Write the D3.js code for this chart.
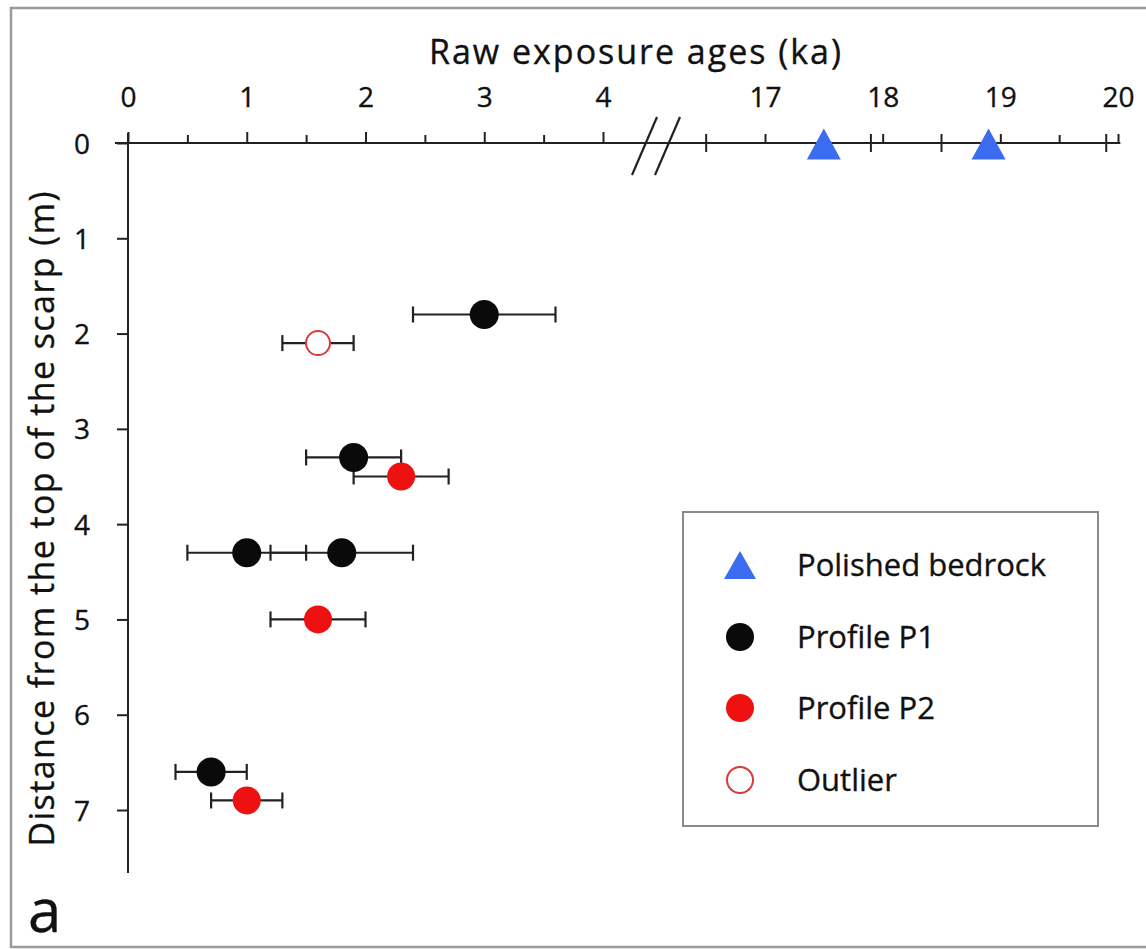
<!DOCTYPE html>
<html>
<head>
<meta charset="utf-8">
<script src="https://cdn.jsdelivr.net/npm/d3@7"></script>
<style>
  html, body { margin: 0; padding: 0; background: #fff; }
  svg text { font-family: "Open Sans", "Noto Sans", sans-serif; fill: #111; stroke: #111; stroke-width: 0.35px; }
</style>
</head>
<body>
<svg id="chart" width="1146" height="949"></svg>
<script>
// ---------------- data ----------------
const leftTicks = [0, 1, 2, 3, 4];
const leftMinorTicks = [0.5, 1.5, 2.5, 3.5];
const rightTicks = [17, 18, 19, 20];
const rightCrossTicks = [16.5, 17.9, 18.5, 19.9];
const rightMinorTicks = [19.5];
const depthTicks = [0, 1, 2, 3, 4, 5, 6, 7];

const bedrockAge = [17.5, 18.9];
const bedrockDepth = [0, 0];

const p1Age = [3.0, 1.9, 1.0, 1.8, 0.7];
const p1Depth = [1.8, 3.3, 4.3, 4.3, 6.6];
const p1Err = [0.6, 0.4, 0.5, 0.6, 0.3];

const p2Age = [2.3, 1.6, 1.0];
const p2Depth = [3.5, 5.0, 6.9];
const p2Err = [0.4, 0.4, 0.3];

const outlierAge = [1.6];
const outlierDepth = [2.1];
const outlierErr = [0.3];

const legendLabels = ["Polished bedrock", "Profile P1", "Profile P2", "Outlier"];
const xTitle = "Raw exposure ages (ka)";
const yTitle = "Distance from the top of the scarp (m)";
const panelLabel = "a";

// ---------------- layout ----------------
const svg = d3.select("#chart");
const BLUE = "#3b6cf0", RED = "#ee1111", BLACK = "#0a0a0a";

const xL = d3.scaleLinear().domain([0, 4]).range([128, 603]);
const xR = d3.scaleLinear().domain([17, 20]).range([765, 1118]);
const y = d3.scaleLinear().domain([0, 7]).range([143, 810]);
const axisY = y(0);

// frame
svg.append("rect").attr("x", 11).attr("y", 8).attr("width", 1150).attr("height", 939)
  .attr("fill", "none").attr("stroke", "#9a9a9a").attr("stroke-width", 2.5);

// axis line (continuous through break)
svg.append("line").attr("x1", xL(-0.11)).attr("x2", xR(20.02))
  .attr("y1", axisY).attr("y2", axisY).attr("stroke", "#222").attr("stroke-width", 2);

const tickFont = "28px";
function styleAxis(g) {
  g.select(".domain").remove();
  g.selectAll(".tick line").attr("stroke", "#222").attr("stroke-width", 2);
  g.selectAll(".tick text").attr("font-size", tickFont).attr("fill", "#111")
    .style("font-family", "'Open Sans', sans-serif");
}

// left segment
svg.append("g").attr("transform", `translate(0,${axisY})`)
  .call(d3.axisTop(xL).tickValues(leftTicks).tickSize(11).tickPadding(25).tickFormat(d3.format("d")))
  .call(styleAxis);
svg.append("g").attr("transform", `translate(0,${axisY})`)
  .call(d3.axisTop(xL).tickValues(leftMinorTicks).tickSize(8).tickFormat(""))
  .call(styleAxis);

// right segment
svg.append("g").attr("transform", `translate(0,${axisY})`)
  .call(d3.axisTop(xR).tickValues(rightTicks).tickSize(9).tickPadding(27).tickFormat(d3.format("d")))
  .call(styleAxis);
svg.append("g").attr("transform", `translate(0,${axisY})`)
  .call(d3.axisTop(xR).tickValues(rightMinorTicks).tickSize(8).tickFormat(""))
  .call(styleAxis);
svg.append("g").selectAll("line").data(rightCrossTicks).join("line")
  .attr("x1", d => xR(d)).attr("x2", d => xR(d))
  .attr("y1", axisY - 9).attr("y2", axisY + 9)
  .attr("stroke", "#222").attr("stroke-width", 2);

// break marks
const brk = svg.append("g").attr("stroke", "#222").attr("stroke-width", 2.2);
[[632, 657], [655, 680]].forEach(([a, b]) => {
  brk.append("line").attr("x1", a).attr("y1", axisY + 32).attr("x2", b).attr("y2", axisY - 26);
});

// y axis
svg.append("line").attr("x1", xL(0)).attr("x2", xL(0)).attr("y1", axisY - 10).attr("y2", 873)
  .attr("stroke", "#222").attr("stroke-width", 2);
svg.append("g").attr("transform", `translate(${xL(0)},0)`)
  .call(d3.axisLeft(y).tickValues(depthTicks).tickSize(11).tickPadding(27).tickFormat(d3.format("d")))
  .call(styleAxis)
  .selectAll(".tick text").attr("dy", "0.36em");

// titles
svg.append("text").attr("x", 635).attr("y", 64).attr("text-anchor", "middle")
  .attr("font-size", "34px").attr("textLength", 412).attr("lengthAdjust", "spacing").text(xTitle);
svg.append("text").attr("transform", "translate(54,519) rotate(-90)").attr("text-anchor", "middle")
  .attr("font-size", "34px").attr("textLength", 655).attr("lengthAdjust", "spacing").text(yTitle);
svg.append("text").attr("x", 28).attr("y", 932).attr("font-size", "60px").text(panelLabel);

// ---------------- marks ----------------
function errorBars(ages, depths, errs, xs) {
  const g = svg.append("g").attr("stroke", "#222").attr("stroke-width", 2.2);
  const rows = ages.map((a, i) => ({ a, d: depths[i], e: errs[i] }));
  g.selectAll("line.h").data(rows).join("line").attr("class", "h")
    .attr("x1", r => xs(r.a - r.e)).attr("x2", r => xs(r.a + r.e))
    .attr("y1", r => y(r.d)).attr("y2", r => y(r.d));
  g.selectAll("line.c1").data(rows).join("line").attr("class", "c1")
    .attr("x1", r => xs(r.a - r.e)).attr("x2", r => xs(r.a - r.e))
    .attr("y1", r => y(r.d) - 8).attr("y2", r => y(r.d) + 8);
  g.selectAll("line.c2").data(rows).join("line").attr("class", "c2")
    .attr("x1", r => xs(r.a + r.e)).attr("x2", r => xs(r.a + r.e))
    .attr("y1", r => y(r.d) - 8).attr("y2", r => y(r.d) + 8);
}
function dots(ages, depths, xs, fill, stroke, sw, r) {
  svg.append("g").selectAll("circle").data(ages.map((a, i) => ({ a, d: depths[i] }))).join("circle")
    .attr("cx", p => xs(p.a)).attr("cy", p => y(p.d)).attr("r", r)
    .attr("fill", fill).attr("stroke", stroke).attr("stroke-width", sw);
}
const triPath = (w, h) => `M0,${-h / 2}L${w / 2},${h / 2}L${-w / 2},${h / 2}Z`;

errorBars(outlierAge, outlierDepth, outlierErr, xL);
errorBars(p2Age, p2Depth, p2Err, xL);
errorBars(p1Age, p1Depth, p1Err, xL);
dots(outlierAge, outlierDepth, xL, "#fff", "#d83b3b", 2, 12);
dots(p2Age, p2Depth, xL, RED, "none", 0, 14);
dots(p1Age, p1Depth, xL, BLACK, "none", 0, 14.5);

svg.append("g").selectAll("path").data(bedrockAge.map((a, i) => ({ a, d: bedrockDepth[i] }))).join("path")
  .attr("d", triPath(34, 31))
  .attr("transform", p => `translate(${xR(p.a)},${y(p.d) + 1})`)
  .attr("fill", BLUE);

// ---------------- legend ----------------
const lg = svg.append("g");
lg.append("rect").attr("x", 683).attr("y", 512).attr("width", 415).attr("height", 314)
  .attr("fill", "#fff").attr("stroke", "#8a8a8a").attr("stroke-width", 2);
const rowY = [565, 637, 708, 780];
lg.append("path").attr("d", triPath(32, 28)).attr("transform", `translate(740,${rowY[0]})`).attr("fill", BLUE);
lg.append("circle").attr("cx", 740).attr("cy", rowY[1]).attr("r", 14).attr("fill", BLACK);
lg.append("circle").attr("cx", 740).attr("cy", rowY[2]).attr("r", 14).attr("fill", RED);
lg.append("circle").attr("cx", 740).attr("cy", rowY[3]).attr("r", 13).attr("fill", "#fff")
  .attr("stroke", "#d83b3b").attr("stroke-width", 2);
lg.selectAll("text").data(legendLabels).join("text")
  .attr("x", 797).attr("y", (d, i) => rowY[i] + 11).attr("font-size", "31px").text(d => d);
</script>
</body>
</html>
